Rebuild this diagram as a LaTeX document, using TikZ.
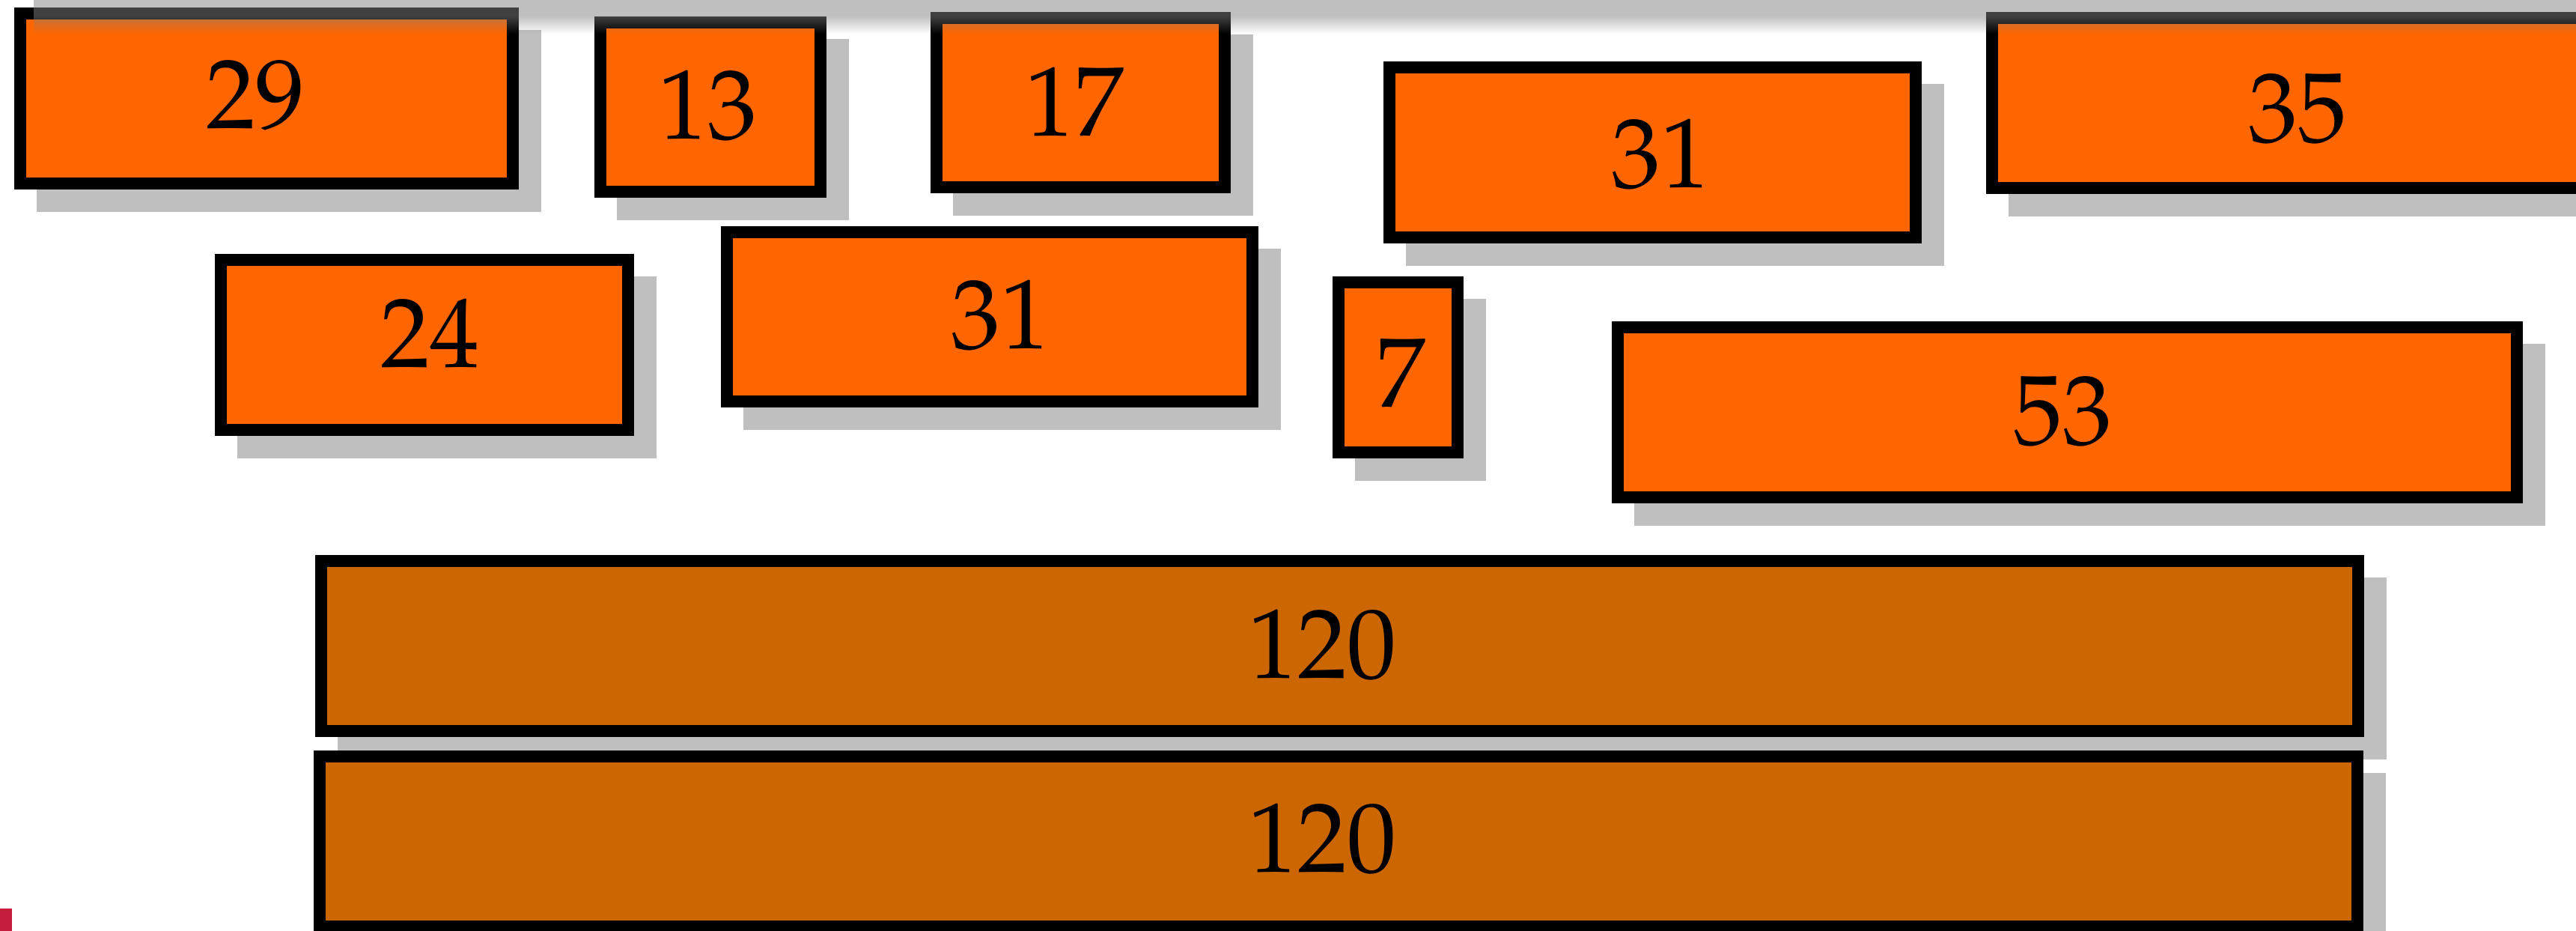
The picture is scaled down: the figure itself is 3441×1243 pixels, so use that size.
\documentclass[tikz,border=0pt]{standalone}
\definecolor{org}{HTML}{FF6600}
\definecolor{dorg}{HTML}{CC6600}
\definecolor{shd}{HTML}{BFBFBF}
\definecolor{redm}{HTML}{C41E3A}
\tikzset{
  boxA/.style={rectangle, draw=black, line width=4pt, fill=org, inner sep=0pt},
  boxB/.style={boxA, fill=dorg},
  numtext/.style={inner sep=0pt, font=\fontencoding{OT1}\fontfamily{ppl}\fontseries{m}\fontshape{n}\fontsize{33}{40}\selectfont},
  shadowfill/.style={fill=shd},
  topshade/.style={fill=gray},
}
\newcommand{\obox}[9]{%
  \fill[shadowfill] ({#3+30},{#4+30}) rectangle ({#5+30},{#6+30});
  \node[#2, minimum width={(#5-#3-16)*0.25pt}, minimum height={(#6-#4-16)*0.25pt}] (#1) at ({(#3+#5)/2},{(#4+#6)/2}) {};
  \node[numtext] (#1t) at (#7,#8) {#9};
}
\begin{document}
\begin{tikzpicture}[x=0.25pt, y=-0.25pt]
\useasboundingbox (0,0) rectangle (3441,1243);
\clip (0,0) rectangle (3441,1243);
% top row
\obox{b29}{boxA}{19.4}{10}{692.9}{253.3}{341.8}{127.5}{29}
\obox{b13}{boxA}{793.8}{21.7}{1104.3}{264.3}{945}{140.5}{13}
\obox{b17}{boxA}{1243.3}{15.7}{1644}{258.3}{1435}{136.2}{17}
\obox{b31t}{boxA}{1848}{82.3}{2567}{325}{2218.8}{205.2}{31}
\obox{b35}{boxA}{2653.1}{16}{3490}{258.7}{3069.3}{145.8}{35}
% middle row
\obox{b24}{boxA}{287}{339.3}{846.9}{581.7}{574.5}{445.3}{24}
\obox{b31m}{boxA}{963}{301.7}{1681.3}{544.3}{1336.1}{420.8}{31}
\obox{b7}{boxA}{1780.4}{369.3}{1954.9}{611.7}{1871.9}{499}{7}
\obox{b53}{boxA}{2153.1}{429.3}{3370.3}{672.3}{2755}{549}{53}
% bottom
\obox{b120a}{boxB}{420.8}{741}{3158.3}{984}{1766}{860}{120}
\obox{b120b}{boxB}{419.3}{1002}{3157.3}{1245}{1766}{1119}{120}
% translucent shadow band at the top
\fill[topshade, opacity=0.5] (45,-5) rectangle (3460,22);
\foreach \i in {0,...,11}{
  \pgfmathsetmacro{\op}{0.5*(1-(\i+0.5)/12)}
  \fill[topshade, opacity=\op] (45,{22+2*\i}) rectangle (3460,{24+2*\i});
}
% red mark
\fill[redm] (0,1213) rectangle (16,1243);
\end{tikzpicture}
\end{document}
